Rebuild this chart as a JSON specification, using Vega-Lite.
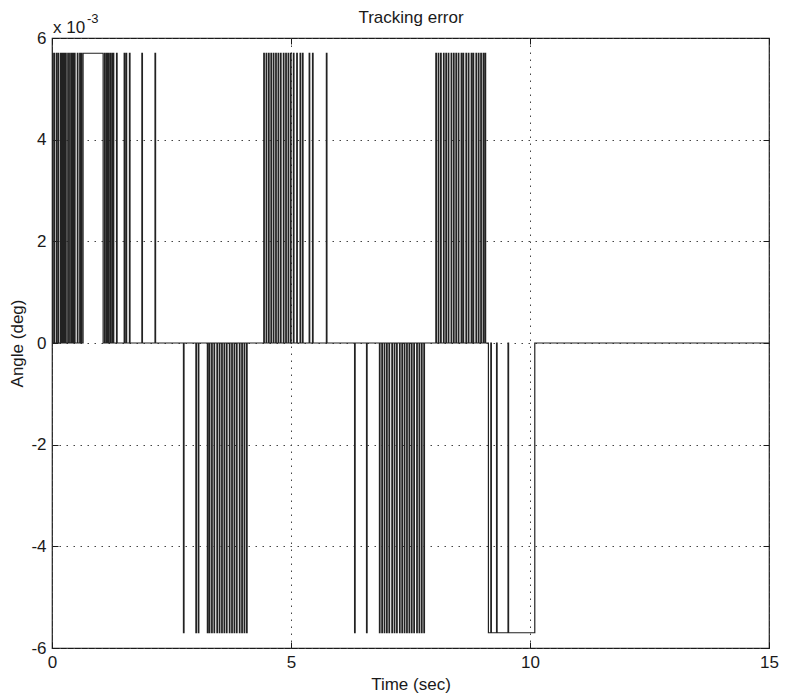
{
  "$schema": "https://vega.github.io/schema/vega-lite/v6.json",
  "width": 717,
  "height": 610,
  "autosize": {"type": "none"},
  "padding": {"left": 52, "top": 38, "right": 16, "bottom": 52},
  "background": "white",
  "config": {
    "view": {"stroke": "#1a1a1a", "strokeWidth": 1.2},
    "font": "Liberation Sans",
    "axis": {
      "domain": false,
      "grid": false,
      "ticks": true,
      "tickSize": -6,
      "tickColor": "#1a1a1a",
      "labelFont": "Liberation Sans",
      "labelFontSize": 17,
      "labelColor": "#1a1a1a",
      "labelFlush": false,
      "labelOverlap": false,
      "labelPadding": 12,
      "titleFont": "Liberation Sans",
      "titleFontSize": 17,
      "titleFontWeight": "normal",
      "titleColor": "#1a1a1a",
      "gridColor": "#444",
      "gridDash": [1.5, 5.5],
      "gridWidth": 1
    }
  },
  "data": {
    "values": [
      {"t": 0, "angle": 0.0057}, {"t": 0.012, "angle": 0},
      {"t": 0.04, "angle": 0.0057}, {"t": 0.052, "angle": 0},
      {"t": 0.09, "angle": 0.0057}, {"t": 0.102, "angle": 0},
      {"t": 0.13, "angle": 0.0057}, {"t": 0.142, "angle": 0},
      {"t": 0.18, "angle": 0.0057}, {"t": 0.192, "angle": 0},
      {"t": 0.215, "angle": 0.0057}, {"t": 0.227, "angle": 0},
      {"t": 0.25, "angle": 0.0057}, {"t": 0.262, "angle": 0},
      {"t": 0.285, "angle": 0.0057}, {"t": 0.297, "angle": 0},
      {"t": 0.33, "angle": 0.0057}, {"t": 0.342, "angle": 0},
      {"t": 0.37, "angle": 0.0057}, {"t": 0.382, "angle": 0},
      {"t": 0.41, "angle": 0.0057}, {"t": 0.422, "angle": 0},
      {"t": 0.44, "angle": 0.0057}, {"t": 0.452, "angle": 0},
      {"t": 0.47, "angle": 0.0057}, {"t": 0.482, "angle": 0},
      {"t": 0.53, "angle": 0.0057}, {"t": 0.542, "angle": 0},
      {"t": 0.58, "angle": 0.0057}, {"t": 0.592, "angle": 0},
      {"t": 0.61, "angle": 0.0057}, {"t": 0.622, "angle": 0},
      {"t": 0.65, "angle": 0.0057}, {"t": 1.07, "angle": 0},
      {"t": 1.1, "angle": 0.0057}, {"t": 1.112, "angle": 0},
      {"t": 1.14, "angle": 0.0057}, {"t": 1.152, "angle": 0},
      {"t": 1.17, "angle": 0.0057}, {"t": 1.182, "angle": 0},
      {"t": 1.21, "angle": 0.0057}, {"t": 1.222, "angle": 0},
      {"t": 1.25, "angle": 0.0057}, {"t": 1.262, "angle": 0},
      {"t": 1.28, "angle": 0.0057}, {"t": 1.292, "angle": 0},
      {"t": 1.35, "angle": 0.0057}, {"t": 1.362, "angle": 0},
      {"t": 1.51, "angle": 0.0057}, {"t": 1.522, "angle": 0},
      {"t": 1.55, "angle": 0.0057}, {"t": 1.562, "angle": 0},
      {"t": 1.62, "angle": 0.0057}, {"t": 1.632, "angle": 0},
      {"t": 1.88, "angle": 0.0057}, {"t": 1.892, "angle": 0},
      {"t": 2.155, "angle": 0.0057}, {"t": 2.167, "angle": 0},
      {"t": 2.75, "angle": -0.0057}, {"t": 2.762, "angle": 0},
      {"t": 3.01, "angle": -0.0057}, {"t": 3.022, "angle": 0},
      {"t": 3.06, "angle": -0.0057}, {"t": 3.072, "angle": 0},
      {"t": 3.25, "angle": -0.0057}, {"t": 3.262, "angle": 0},
      {"t": 3.29, "angle": -0.0057}, {"t": 3.302, "angle": 0},
      {"t": 3.34, "angle": -0.0057}, {"t": 3.352, "angle": 0},
      {"t": 3.39, "angle": -0.0057}, {"t": 3.402, "angle": 0},
      {"t": 3.45, "angle": -0.0057}, {"t": 3.462, "angle": 0},
      {"t": 3.5, "angle": -0.0057}, {"t": 3.512, "angle": 0},
      {"t": 3.55, "angle": -0.0057}, {"t": 3.562, "angle": 0},
      {"t": 3.6, "angle": -0.0057}, {"t": 3.612, "angle": 0},
      {"t": 3.65, "angle": -0.0057}, {"t": 3.662, "angle": 0},
      {"t": 3.71, "angle": -0.0057}, {"t": 3.722, "angle": 0},
      {"t": 3.76, "angle": -0.0057}, {"t": 3.772, "angle": 0},
      {"t": 3.81, "angle": -0.0057}, {"t": 3.822, "angle": 0},
      {"t": 3.86, "angle": -0.0057}, {"t": 3.872, "angle": 0},
      {"t": 3.92, "angle": -0.0057}, {"t": 3.932, "angle": 0},
      {"t": 3.97, "angle": -0.0057}, {"t": 3.982, "angle": 0},
      {"t": 4.02, "angle": -0.0057}, {"t": 4.032, "angle": 0},
      {"t": 4.07, "angle": -0.0057}, {"t": 4.082, "angle": 0},
      {"t": 4.43, "angle": 0.0057}, {"t": 4.442, "angle": 0},
      {"t": 4.48, "angle": 0.0057}, {"t": 4.492, "angle": 0},
      {"t": 4.53, "angle": 0.0057}, {"t": 4.542, "angle": 0},
      {"t": 4.58, "angle": 0.0057}, {"t": 4.592, "angle": 0},
      {"t": 4.63, "angle": 0.0057}, {"t": 4.642, "angle": 0},
      {"t": 4.68, "angle": 0.0057}, {"t": 4.692, "angle": 0},
      {"t": 4.73, "angle": 0.0057}, {"t": 4.742, "angle": 0},
      {"t": 4.78, "angle": 0.0057}, {"t": 4.792, "angle": 0},
      {"t": 4.84, "angle": 0.0057}, {"t": 4.852, "angle": 0},
      {"t": 4.89, "angle": 0.0057}, {"t": 4.902, "angle": 0},
      {"t": 4.94, "angle": 0.0057}, {"t": 4.952, "angle": 0},
      {"t": 4.99, "angle": 0.0057}, {"t": 5.002, "angle": 0},
      {"t": 5.05, "angle": 0.0057}, {"t": 5.062, "angle": 0},
      {"t": 5.12, "angle": 0.0057}, {"t": 5.132, "angle": 0},
      {"t": 5.19, "angle": 0.0057}, {"t": 5.202, "angle": 0},
      {"t": 5.24, "angle": 0.0057}, {"t": 5.252, "angle": 0},
      {"t": 5.38, "angle": 0.0057}, {"t": 5.392, "angle": 0},
      {"t": 5.45, "angle": 0.0057}, {"t": 5.462, "angle": 0},
      {"t": 5.74, "angle": 0.0057}, {"t": 5.752, "angle": 0},
      {"t": 6.33, "angle": -0.0057}, {"t": 6.342, "angle": 0},
      {"t": 6.58, "angle": -0.0057}, {"t": 6.592, "angle": 0},
      {"t": 6.85, "angle": -0.0057}, {"t": 6.862, "angle": 0},
      {"t": 6.9, "angle": -0.0057}, {"t": 6.912, "angle": 0},
      {"t": 6.95, "angle": -0.0057}, {"t": 6.962, "angle": 0},
      {"t": 7.0, "angle": -0.0057}, {"t": 7.012, "angle": 0},
      {"t": 7.05, "angle": -0.0057}, {"t": 7.062, "angle": 0},
      {"t": 7.11, "angle": -0.0057}, {"t": 7.122, "angle": 0},
      {"t": 7.16, "angle": -0.0057}, {"t": 7.172, "angle": 0},
      {"t": 7.21, "angle": -0.0057}, {"t": 7.222, "angle": 0},
      {"t": 7.27, "angle": -0.0057}, {"t": 7.282, "angle": 0},
      {"t": 7.32, "angle": -0.0057}, {"t": 7.332, "angle": 0},
      {"t": 7.37, "angle": -0.0057}, {"t": 7.382, "angle": 0},
      {"t": 7.42, "angle": -0.0057}, {"t": 7.432, "angle": 0},
      {"t": 7.47, "angle": -0.0057}, {"t": 7.482, "angle": 0},
      {"t": 7.52, "angle": -0.0057}, {"t": 7.532, "angle": 0},
      {"t": 7.57, "angle": -0.0057}, {"t": 7.582, "angle": 0},
      {"t": 7.63, "angle": -0.0057}, {"t": 7.642, "angle": 0},
      {"t": 7.68, "angle": -0.0057}, {"t": 7.692, "angle": 0},
      {"t": 7.73, "angle": -0.0057}, {"t": 7.742, "angle": 0},
      {"t": 7.78, "angle": -0.0057}, {"t": 7.792, "angle": 0},
      {"t": 8.03, "angle": 0.0057}, {"t": 8.042, "angle": 0},
      {"t": 8.08, "angle": 0.0057}, {"t": 8.092, "angle": 0},
      {"t": 8.13, "angle": 0.0057}, {"t": 8.142, "angle": 0},
      {"t": 8.19, "angle": 0.0057}, {"t": 8.202, "angle": 0},
      {"t": 8.24, "angle": 0.0057}, {"t": 8.252, "angle": 0},
      {"t": 8.29, "angle": 0.0057}, {"t": 8.302, "angle": 0},
      {"t": 8.35, "angle": 0.0057}, {"t": 8.362, "angle": 0},
      {"t": 8.4, "angle": 0.0057}, {"t": 8.412, "angle": 0},
      {"t": 8.45, "angle": 0.0057}, {"t": 8.462, "angle": 0},
      {"t": 8.5, "angle": 0.0057}, {"t": 8.512, "angle": 0},
      {"t": 8.56, "angle": 0.0057}, {"t": 8.572, "angle": 0},
      {"t": 8.6, "angle": 0.0057}, {"t": 8.612, "angle": 0},
      {"t": 8.66, "angle": 0.0057}, {"t": 8.672, "angle": 0},
      {"t": 8.71, "angle": 0.0057}, {"t": 8.722, "angle": 0},
      {"t": 8.77, "angle": 0.0057}, {"t": 8.782, "angle": 0},
      {"t": 8.81, "angle": 0.0057}, {"t": 8.822, "angle": 0},
      {"t": 8.87, "angle": 0.0057}, {"t": 8.882, "angle": 0},
      {"t": 8.92, "angle": 0.0057}, {"t": 8.932, "angle": 0},
      {"t": 8.97, "angle": 0.0057}, {"t": 8.982, "angle": 0},
      {"t": 9.02, "angle": 0.0057}, {"t": 9.032, "angle": 0},
      {"t": 9.06, "angle": 0.0057}, {"t": 9.072, "angle": 0},
      {"t": 9.13, "angle": -0.0057}, {"t": 9.18, "angle": 0},
      {"t": 9.192, "angle": -0.0057}, {"t": 9.3, "angle": 0},
      {"t": 9.312, "angle": -0.0057}, {"t": 9.54, "angle": 0},
      {"t": 9.552, "angle": -0.0057}, {"t": 10.1, "angle": 0},
      {"t": 15, "angle": 0}
    ]
  },
  "layer": [
    {
      "mark": {"type": "line", "interpolate": "step-after", "color": "#222", "strokeWidth": 1.2},
      "encoding": {
        "x": {
          "field": "t", "type": "quantitative",
          "scale": {"domain": [0, 15], "nice": false, "zero": false},
          "axis": {"orient": "bottom", "values": [0, 5, 10, 15], "grid": true, "title": "Time (sec)", "titlePadding": 6}
        },
        "y": {
          "field": "angle", "type": "quantitative",
          "scale": {"domain": [-0.006, 0.006], "nice": false, "zero": false},
          "axis": {"orient": "left", "values": [-0.006, -0.004, -0.002, 0, 0.002, 0.004, 0.006], "labelExpr": "round(datum.value*1000)", "grid": true, "title": "Angle (deg)", "titlePadding": 4}
        }
      }
    },
    {
      "data": {"values": [{"lbl": "x 10"}]},
      "mark": {"type": "text", "align": "left", "baseline": "alphabetic", "dx": 1, "dy": -5, "fontSize": 17, "font": "Liberation Sans", "color": "#1a1a1a"},
      "encoding": {
        "x": {"datum": 0, "type": "quantitative", "scale": {"domain": [0, 15], "nice": false, "zero": false},
          "axis": {"orient": "top", "values": [0, 5, 10, 15], "labels": false, "title": "Tracking error", "titlePadding": 15, "titleBaseline": "alphabetic"}},
        "y": {"datum": 0.006, "type": "quantitative", "scale": {"domain": [-0.006, 0.006], "nice": false, "zero": false},
          "axis": {"orient": "right", "values": [-0.006, -0.004, -0.002, 0, 0.002, 0.004, 0.006], "labels": false, "title": null}},
        "text": {"field": "lbl"}
      }
    },
    {
      "data": {"values": [{"lbl": "-3"}]},
      "mark": {"type": "text", "align": "left", "baseline": "alphabetic", "dx": 35, "dy": -15, "fontSize": 13, "font": "Liberation Sans", "color": "#1a1a1a"},
      "encoding": {
        "x": {"datum": 0, "type": "quantitative", "scale": {"domain": [0, 15], "nice": false, "zero": false}, "axis": null},
        "y": {"datum": 0.006, "type": "quantitative", "scale": {"domain": [-0.006, 0.006], "nice": false, "zero": false}, "axis": null},
        "text": {"field": "lbl"}
      }
    }
  ],
  "resolve": {"axis": {"x": "independent", "y": "independent"}}
}
